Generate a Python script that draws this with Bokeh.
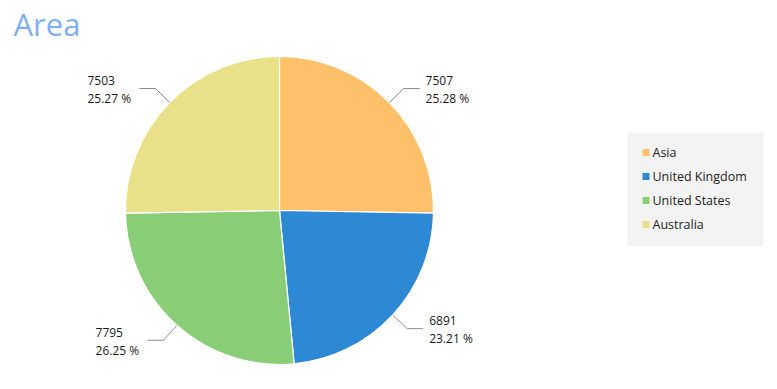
import math
from bokeh.plotting import figure
from bokeh.models import ColumnDataSource, Label
from bokeh.core.properties import value
from bokeh.embed import file_html
from bokeh.resources import INLINE

categories = ["Asia", "United Kingdom", "United States", "Australia"]
values = [7507, 6891, 7795, 7503]
colors = ["#FEC069", "#2E89D5", "#89CE77", "#E8E18A"]
title_text = "Area"

W, H = 777, 389
CX, CY, R = 279, H - 210, 154

total = sum(values)
starts, ends, mids, pcts = [], [], [], []
cum = 0.0
for v in values:
    f0 = cum / total
    cum += v
    f1 = cum / total
    # clockwise from 12 o'clock
    starts.append(math.pi / 2 - 2 * math.pi * f1)
    ends.append(math.pi / 2 - 2 * math.pi * f0)
    mids.append(math.pi / 2 - 2 * math.pi * (f0 + f1) / 2)
    pcts.append(100.0 * v / total)

p = figure(width=W, height=H, output_backend="svg", toolbar_location=None,
           x_range=(0, W), y_range=(0, H), min_border=0,
           background_fill_color="white", border_fill_color="white")
p.axis.visible = False
p.grid.visible = False
p.outline_line_color = None

src = ColumnDataSource(dict(start=starts, end=ends, color=colors, name=categories))
p.wedge(x=CX, y=CY, radius=R, start_angle="start", end_angle="end",
        fill_color="color", line_color="white", line_width=1.2, source=src)

# connector lines and labels
lx, ly, vx, vy, px, py, vtxt, ptxt = [], [], [], [], [], [], [], []
for a, v, pc in zip(mids, values, pcts):
    x0, y0 = CX + R * math.cos(a), CY + R * math.sin(a)
    x1, y1 = CX + (R + 20) * math.cos(a), CY + (R + 20) * math.sin(a)
    side = 1 if math.cos(a) >= 0 else -1
    x2 = x1 + side * 16
    lx.append([x0, x1, x2]); ly.append([y0, y1, y1])
    tx = x2 + 6 if side > 0 else x2 - 6 - 46
    vx.append(tx); vy.append(y1 + 8)
    px.append(tx); py.append(y1 - 10)
    vtxt.append(str(v)); ptxt.append(f"{pc:.2f} %")

p.multi_line(xs=lx, ys=ly, line_color="#8a8a8a", line_width=1)
p.text(x=vx, y=vy, text=vtxt, text_font=value("Open Sans"), text_font_size="12px",
       text_color="#1a1a1a", text_baseline="middle", text_align="left")
p.text(x=px, y=py, text=ptxt, text_font=value("Open Sans"), text_font_size="12px",
       text_color="#1a1a1a", text_baseline="middle", text_align="left")

# legend (drawn manually for exact placement)
LX0, LX1, LY_TOP, LY_BOT = 627, 763, H - 132, H - 246
p.quad(left=LX0, right=LX1, top=LY_TOP, bottom=LY_BOT, fill_color="#F3F3F3", line_color=None)
leg_y = [H - 152 - 24 * i for i in range(len(categories))]
p.scatter(x=[645.5] * len(categories), y=leg_y, marker="square", size=7,
          fill_color=colors, line_color=None)
p.text(x=[652] * len(categories), y=leg_y, text=categories, text_font=value("Open Sans"),
       text_font_size="12.5px", text_color="#222222", text_baseline="middle", text_align="left")

p.add_layout(Label(x=13, y=H - 44, x_units="screen", y_units="screen", text=title_text,
                   text_font="Open Sans", text_font_size="31px", text_color="#7FB1F0"))

open("out.html", "w").write(file_html(p, INLINE))
